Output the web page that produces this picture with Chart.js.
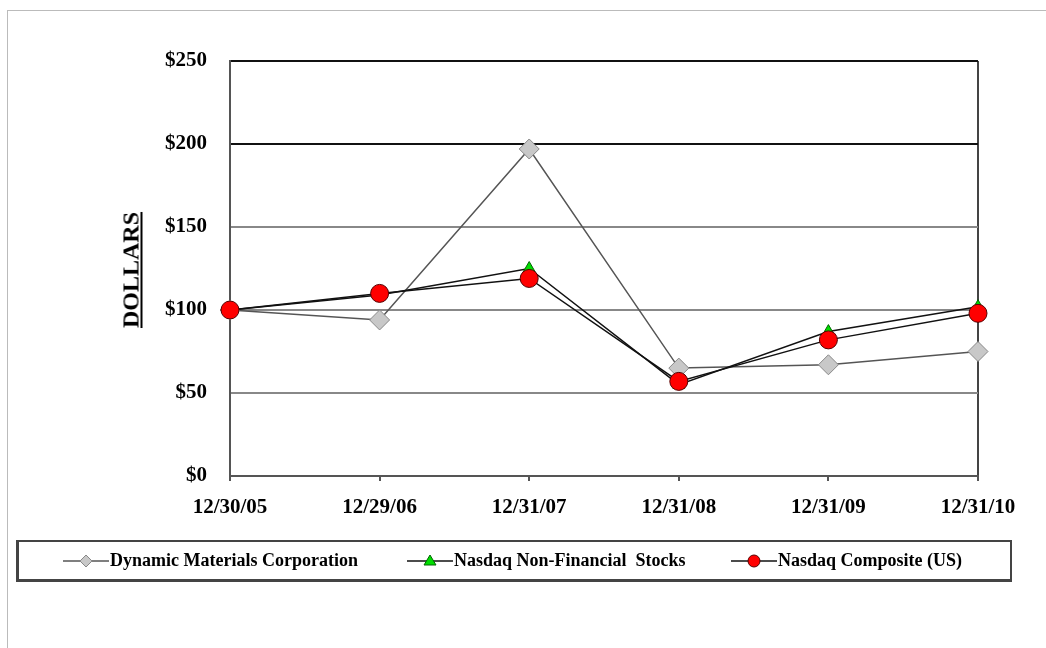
<!DOCTYPE html>
<html>
<head>
<meta charset="utf-8">
<script src="https://cdn.jsdelivr.net/npm/chart.js@4/dist/chart.umd.min.js"></script>
<style>
  html,body{margin:0;padding:0;background:#fff;}
  #wrap{position:relative;width:1046px;height:648px;overflow:hidden;font-family:"Liberation Serif","Times New Roman",serif;}
  #frame{position:absolute;left:7px;top:10px;right:-10px;bottom:-10px;border-left:1px solid #bbb;border-top:1px solid #bbb;}
  #chart{position:absolute;left:0;top:0;}
  #ytitle{position:absolute;left:131px;top:270px;transform:translate(-50%,-50%) rotate(-90deg);
    font-weight:bold;font-size:24px;text-decoration:underline;white-space:nowrap;color:#000;}
  #legend{position:absolute;left:16px;top:540px;width:991px;height:37px;border:2px solid #444;border-left-width:3px;border-bottom-width:3px;}
  .item{position:absolute;top:0;height:37px;display:flex;align-items:center;font-weight:bold;font-size:18px;color:#000;white-space:nowrap;}
  .item svg{margin-right:1px;}
</style>
</head>
<body>
<div id="wrap">
  <div id="frame"></div>
  <canvas id="chart" width="1046" height="648"></canvas>
  <div id="ytitle">DOLLARS</div>
  <div id="legend"></div>
</div>
<script>
const dates = ['12/30/05','12/29/06','12/31/07','12/31/08','12/31/09','12/31/10'];
const dmc = [100, 94, 197, 65, 67, 75];
const nasdaqNonFin = [100, 109, 125, 55, 87, 102];
const nasdaqComp = [100, 110, 119, 57, 82, 98];
const yTicks = [0, 50, 100, 150, 200, 250];

const series = [
  {label:'Dynamic Materials Corporation', data:dmc, line:'#555', shape:'rectRot', fill:'#c8c8c8', edge:'#888', r:10, order:3, legendX:44},
  {label:'Nasdaq Non-Financial  Stocks', data:nasdaqNonFin, line:'#111', shape:'triangle', fill:'#00dd00', edge:'#006600', r:7, order:2, legendX:388},
  {label:'Nasdaq Composite (US)', data:nasdaqComp, line:'#111', shape:'circle', fill:'#ff0000', edge:'#550000', r:9, order:1, legendX:712}
];

const font = {family:'"Liberation Serif","Times New Roman",serif', weight:'bold', size:21};

new Chart(document.getElementById('chart'), {
  type:'line',
  data:{
    labels:dates,
    datasets:series.map(s=>({
      label:s.label, data:s.data, order:s.order,
      borderColor:s.line, borderWidth:1.5, tension:0,
      pointStyle:s.shape, pointRadius:s.r, pointHoverRadius:s.r,
      pointBackgroundColor:s.fill, pointBorderColor:s.edge, pointBorderWidth:1
    }))
  },
  options:{
    responsive:false, animation:false, devicePixelRatio:1,
    layout:{padding:{left:0, top:61, right:68, bottom:122}},
    plugins:{legend:{display:false}, tooltip:{enabled:false}},
    scales:{
      x:{
        offset:false,
        afterFit:s=>{ s.height = 50; },
        border:{color:'#555', width:2},
        grid:{offset:false, drawTicks:true, tickLength:5, tickColor:'#555',
          color:c=>c.index===dates.length-1 ? '#444' : 'rgba(0,0,0,0)', lineWidth:2},
        ticks:{color:'#000', font, padding:14, maxRotation:0, autoSkip:false}
      },
      y:{
        min:0, max:250,
        afterFit:s=>{ s.width = 230; },
        afterBuildTicks:s=>{ s.ticks = yTicks.map(v=>({value:v})); },
        border:{color:'#555', width:2},
        grid:{drawTicks:false, lineWidth:2,
          color:c=>{ const v = c.tick && c.tick.value; return v===0 ? 'rgba(0,0,0,0)' : (v>=200 ? '#111' : '#888'); }},
        ticks:{color:'#000', font, padding:23, callback:v=>'$'+v}
      }
    }
  }
});

// legend box, drawn from the same series list
function marker(s){
  const c = 12, w = 46;
  let m;
  if(s.shape==='rectRot') m = `<polygon points="${c+11},${c-6} ${c+17},${c} ${c+11},${c+6} ${c+5},${c}" fill="${s.fill}" stroke="${s.edge}"/>`;
  else if(s.shape==='triangle') m = `<polygon points="${c+11},${c-6} ${c+17},${c+4} ${c+5},${c+4}" fill="${s.fill}" stroke="${s.edge}"/>`;
  else m = `<circle cx="${c+11}" cy="${c}" r="6" fill="${s.fill}" stroke="${s.edge}"/>`;
  return `<svg width="${w}" height="24"><line x1="0" y1="${c}" x2="${w}" y2="${c}" stroke="${s.line}" stroke-width="1.5"/>${m}</svg>`;
}
document.getElementById('legend').innerHTML = series.map(s=>
  `<div class="item" style="left:${s.legendX}px">${marker(s)}<span>${s.label.replace(/  /g,'&nbsp; ')}</span></div>`
).join('');
</script>
</body>
</html>
